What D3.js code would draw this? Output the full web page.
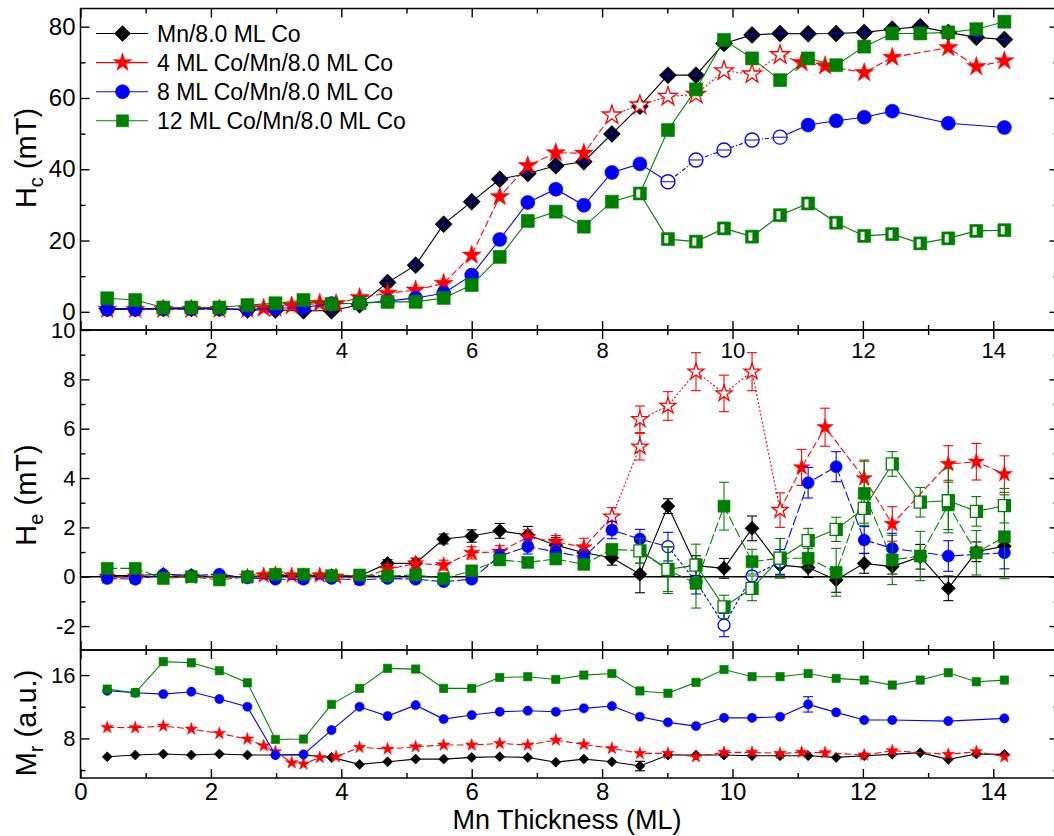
<!DOCTYPE html>
<html>
<head>
<meta charset="utf-8">
<script src="https://cdnjs.cloudflare.com/ajax/libs/d3/7.8.5/d3.min.js"></script>
<style>
  body { margin: 0; background: #fff; }
  svg { display: block; }
  text { font-family: "Liberation Sans", Arial, sans-serif; fill: #000; }
</style>
</head>
<body>
<div id="chart"></div>
<script>
// Mn thickness (ML) sampled by each sample series
const thickness = [0.41,0.84,1.27,1.70,2.13,2.56,2.99,3.42,3.85,4.28,4.71,5.14,5.57,6.00,6.43,6.86,7.29,7.72,8.15,8.58,9.01,9.44,9.87,10.30,10.73,11.16,11.59,12.02,12.45,12.88,13.31,13.74,14.17];
const thicknessRed = [0.41,0.84,1.27,1.70,2.13,2.56,2.81,2.99,3.24,3.42,3.67,3.92,4.28,4.71,5.14,5.57,6.00,6.43,6.86,7.29,7.72,8.15,8.58,9.01,9.44,9.87,10.30,10.73,11.06,11.42,12.02,12.45,13.31,13.74,14.17];
const thicknessRedHe = [0.41,0.84,1.27,1.70,2.13,2.56,2.81,2.99,3.24,3.42,3.67,3.92,4.28,4.71,5.14,5.57,6.00,6.43,6.86,7.29,7.72,8.15,8.58,8.58,9.01,9.44,9.87,10.30,10.73,11.06,11.42,12.02,12.45,13.31,13.74,14.17];
const thicknessBlue = [0.41,0.84,1.27,1.70,2.13,2.56,2.99,3.42,3.85,4.28,4.71,5.14,5.57,6.00,6.43,6.86,7.29,7.72,8.15,8.58,9.01,9.44,9.87,10.30,10.73,11.16,11.59,12.02,12.45,13.31,14.17];
const thicknessBranch = [8.58,9.01,9.44,9.87,10.30,10.73,11.16,11.59,12.02,12.45,12.88,13.31,13.74,14.17];

const legendLabels = ['Mn/8.0 ML Co', '4 ML Co/Mn/8.0 ML Co', '8 ML Co/Mn/8.0 ML Co', '12 ML Co/Mn/8.0 ML Co'];

// Hc (mT)
const hcBlack = [0.9,0.9,0.9,0.9,0.9,0.5,0.5,0.3,0.3,2.0,8.2,13.1,24.6,30.9,37.2,38.8,41.0,42.1,49.9,57.7,66.4,66.4,75.3,77.7,78.1,78.0,78.1,78.4,79.3,80.0,78.4,77.0,76.4];
const hcRed = [0.7,0.7,0.7,0.7,0.7,0.7,1.0,1.0,1.7,1.9,2.4,2.3,4.0,5.2,6.1,8.0,15.9,32.3,41.0,44.6,44.5,55.2,58.0,60.4,61.0,67.6,66.7,72.1,69.9,69.0,67.1,71.4,74.1,68.8,70.4];
const hcBlue = [0.7,0.7,0.9,0.9,0.9,0.7,1.0,1.2,2.3,2.4,3.0,3.9,5.2,10.3,20.3,30.7,34.4,29.9,39.1,41.5,36.5,42.6,45.4,48.2,49.0,52.4,53.6,54.6,56.3,52.9,51.7];
const hcGreen = [3.8,3.3,1.2,1.2,1.2,1.9,2.4,3.3,2.2,2.4,2.8,2.8,3.9,7.5,15.4,25.5,28.1,23.9,30.9,33.2,51.0,62.4,76.3,71.1,65.0,71.1,69.2,74.4,78.1,78.1,78.4,79.3,81.4];
const hcGreenLow = [33.2,20.4,19.7,23.4,21.1,27.1,30.4,25.0,21.3,21.8,19.2,20.6,22.7,22.9];

// He (mT) and error bars
const heBlack = [0.05,0.05,0.1,0.05,0.0,0.0,0.05,0.05,0.05,0.03,0.54,0.55,1.53,1.65,1.86,1.69,1.28,0.97,0.77,0.1,2.86,0.45,0.34,1.96,0.47,0.37,-0.13,0.54,0.41,0.81,-0.47,1.01,1.24];
const heBlackErr = [0.1,0.1,0.1,0.1,0.1,0.1,0.1,0.1,0.1,0.1,0.15,0.2,0.2,0.25,0.3,0.35,0.3,0.3,0.3,0.75,0.3,0.4,0.4,0.5,0.4,0.4,0.5,0.4,0.3,0.5,0.5,0.4,0.3];
const heRed = [0,0,0,0,0,0,0.05,0.1,0.05,0,0.05,0,-0.07,0.3,0.54,0.47,0.97,1.01,1.6,1.42,1.19,2.43,5.27,6.38,6.92,8.31,7.43,8.31,2.7,4.43,6.06,3.99,2.14,4.57,4.66,4.16];
const heRedErr = [0.1,0.1,0.1,0.1,0.1,0.1,0.1,0.1,0.1,0.1,0.1,0.1,0.15,0.2,0.2,0.2,0.25,0.25,0.3,0.25,0.37,0.37,0.54,0.54,0.58,0.77,0.74,0.77,0.7,0.73,0.77,0.74,0.7,0.74,0.74,0.74];
const heBlue = [-0.07,-0.1,0.08,0.05,0.1,-0.05,-0.1,-0.1,-0.07,-0.13,-0.07,-0.1,-0.2,-0.1,0.84,1.22,1.01,0.79,1.89,1.53,1.22,-0.2,-1.96,0.03,0.6,3.81,4.46,1.49,1.15,0.84,0.97];
const heBlueErr = [0.1,0.1,0.1,0.1,0.1,0.1,0.1,0.1,0.1,0.1,0.1,0.1,0.1,0.1,0.25,0.3,0.3,0.3,0.35,0.39,0.58,0.5,0.47,0.45,0.5,0.62,0.61,0.54,0.61,0.62,0.65];
const heGreen = [0.34,0.34,-0.07,0.0,-0.13,0.0,0.1,0.1,0.04,0.07,0.03,0.07,-0.07,0.24,0.68,0.58,0.72,0.5,1.11,1.05,0.27,-0.27,2.86,0.61,0.75,0.75,0.18,3.38,0.68,0.84,2.91,0.97,1.62];
const heGreenErr = [0.15,0.15,0.15,0.15,0.15,0.15,0.15,0.15,0.15,0.15,0.15,0.15,0.15,0.15,0.15,0.15,0.15,0.15,0.2,0.5,0.95,1.0,0.97,0.5,0.8,0.4,0.97,1.3,1.0,1.0,1.0,0.9,1.7];
const heGreenOpen = [1.05,0.3,0.47,-1.22,-0.47,0.75,1.46,1.92,2.77,4.57,3.02,3.08,2.65,2.88];
const heGreenOpenErr = [0.5,0.9,0.85,0.47,0.5,0.8,0.5,0.49,0.6,0.5,0.6,1.3,0.6,0.7];

// Mr (a.u.)
const mrBlack = [5.68,5.9,6.03,5.9,6.03,5.9,5.9,5.9,5.6,4.72,5.05,5.39,5.39,5.6,5.68,5.6,5.0,5.39,5.05,4.51,5.9,5.9,5.9,5.81,5.81,5.81,5.6,5.81,5.99,6.2,5.35,6.03,5.99];
const mrBlackErr = [0,0,0,0,0,0,0,0,0,0,0,0,0,0,0,0,0,0,0,0.6,0,0,0,0,0,0,0,0,0,0,0,0,0];
const mrRed = [9.39,9.35,9.56,9.18,8.63,7.92,7.07,6.32,4.93,4.76,5.6,5.68,6.87,6.66,6.95,7.16,7.16,7.37,7.16,7.79,7.24,6.74,6.11,6.11,5.68,6.24,6.24,6.11,6.24,6.2,5.9,6.44,5.99,6.32,5.68];
const mrBlue = [14.02,13.77,13.6,13.9,12.97,12.0,5.9,5.98,9.05,12.0,10.82,12.2,10.44,10.95,11.37,11.5,11.37,11.8,12.09,10.74,10.03,9.56,10.6,10.6,10.74,12.3,11.29,10.32,10.32,10.19,10.53];
const mrBlueErr = [0,0,0,0,0,0,0,0,0,0,0,0,0,0,0,0,0,0,0,0,0,0,0,0,0,0.97,0,0,0,0,0];
const mrGreen = [14.23,13.77,17.7,17.56,16.55,15.03,7.87,7.92,12.3,14.32,16.85,16.76,14.32,14.32,15.7,15.8,15.45,16.0,16.2,14.0,13.7,15.08,16.7,15.8,15.8,16.2,15.58,15.37,14.74,15.37,16.3,15.16,15.37];

const W = 1054, H = 836;
const COL = { black: '#000000', red: '#ff0000', blue: '#0000ff', green: '#008000' };

const svg = d3.select('#chart').append('svg').attr('width', W).attr('height', H);

const x = d3.scaleLinear().domain([0, 15]).range([80.5, 1058.5]);
const yHc = d3.scaleLinear().domain([-5.1, 85.1]).range([330, 8.5]);
const yHe = d3.scaleLinear().domain([-2.97, 10]).range([650, 330]);
const yMr = d3.scaleLinear().domain([3, 19.17]).range([778, 650]);

const xMajor = [0,2,4,6,8,10,12,14], xMinor = [1,3,5,7,9,11,13];

function styleAxis(sel, fs) {
  sel.select('.domain').remove();
  sel.selectAll('line').attr('stroke', '#000').attr('stroke-width', 1.4);
  sel.selectAll('text').attr('font-size', fs).attr('fill', '#000')
    .attr('font-family', '"Liberation Sans", Arial, sans-serif');
}

function drawFrame(y, o) {
  const [yb, yt] = y.range();
  const g = svg.append('g');
  const xl = x.range()[0], xr = x.range()[1];
  const fmt = d => String(d);
  // y axes
  g.append('g').attr('transform', `translate(${xl},0)`)
    .call(d3.axisLeft(y).tickValues(o.yMajor).tickSize(-9).tickPadding(5).tickFormat(fmt))
    .call(s => styleAxis(s, o.yfs));
  g.append('g').attr('transform', `translate(${xl},0)`)
    .call(d3.axisLeft(y).tickValues(o.yMinor).tickSize(-5).tickFormat(''))
    .call(s => styleAxis(s, o.yfs));
  g.append('g').attr('transform', `translate(${xr},0)`)
    .call(d3.axisRight(y).tickValues(o.yMajor).tickSize(-9).tickFormat(''))
    .call(s => styleAxis(s, o.yfs));
  g.append('g').attr('transform', `translate(${xr},0)`)
    .call(d3.axisRight(y).tickValues(o.yMinor).tickSize(-5).tickFormat(''))
    .call(s => styleAxis(s, o.yfs));
  // top x axis (ticks inward, optional labels inside)
  if (o.topLabels) {
    g.append('g').attr('transform', `translate(0,${yt})`)
      .call(d3.axisBottom(x).tickValues(xMajor.filter(v => v > 0)).tickSize(9).tickPadding(3).tickFormat(fmt))
      .call(s => styleAxis(s, 22));
  } else {
    g.append('g').attr('transform', `translate(0,${yt})`)
      .call(d3.axisBottom(x).tickValues(xMajor).tickSize(9).tickFormat(''))
      .call(s => styleAxis(s, 22));
  }
  g.append('g').attr('transform', `translate(0,${yt})`)
    .call(d3.axisBottom(x).tickValues(xMinor).tickSize(5).tickFormat(''))
    .call(s => styleAxis(s, 22));
  // bottom x axis
  g.append('g').attr('transform', `translate(0,${yb})`)
    .call(d3.axisTop(x).tickValues(xMajor).tickSize(9).tickFormat(''))
    .call(s => styleAxis(s, 24));
  g.append('g').attr('transform', `translate(0,${yb})`)
    .call(d3.axisTop(x).tickValues(xMinor).tickSize(5).tickFormat(''))
    .call(s => styleAxis(s, 24));
  if (o.bottomLabels) {
    g.append('g').attr('transform', `translate(0,${yb})`)
      .call(d3.axisBottom(x).tickValues(xMajor).tickSize(0).tickPadding(5).tickFormat(fmt))
      .call(s => styleAxis(s, 24));
  }
  g.append('rect').attr('x', xl).attr('y', yt).attr('width', xr - xl).attr('height', yb - yt)
    .attr('fill', 'none').attr('stroke', '#000').attr('stroke-width', 1.5);
  return g;
}

function marker(g, cx, cy, shape, kind, color, r) {
  let d, rot = 0;
  if (shape === 'diamond') { d = d3.symbol(d3.symbolSquare, 2 * r * r)(); rot = 45; }
  else if (shape === 'star') d = d3.symbol(d3.symbolStar, r * r / 0.8908)();
  else if (shape === 'circle') d = d3.symbol(d3.symbolCircle, Math.PI * r * r)();
  else d = d3.symbol(d3.symbolSquare, 4 * r * r)();
  const m = g.append('g').attr('transform', `translate(${cx},${cy})`);
  const isOpen = kind === 'open' || kind === 'openHalf';
  m.append('path').attr('d', d).attr('transform', rot ? `rotate(${rot})` : null)
    .attr('fill', isOpen ? '#fff' : color)
    .attr('stroke', color).attr('stroke-width', isOpen ? 1.3 : 0.6);
  if (kind === 'half') {
    m.append('rect').attr('x', -r * 0.55).attr('y', -r * 0.62).attr('width', r * 0.6).attr('height', r * 1.24).attr('fill', '#fff');
  }
  if (kind === 'openHalf') {
    m.append('rect').attr('x', r * 0.25).attr('y', -r).attr('width', r * 0.75).attr('height', 2 * r).attr('fill', color);
  }
  return m;
}

function drawSeries(g, y, s) {
  const pts = s.x.map((t, i) => ({ t, v: s.v[i], e: s.err ? s.err[i] : 0, i }));
  const line = d3.line().x(d => x(d.t)).y(d => y(d.v));
  const segs = [];
  if (s.open) {
    const [a, b] = s.open;
    segs.push({ p: pts.slice(0, a + 1), dash: s.dash });
    segs.push({ p: pts.slice(a, b + 1), dash: s.openDash });
    segs.push({ p: pts.slice(b), dash: s.dash });
  } else segs.push({ p: pts, dash: s.dash });
  segs.forEach(sg => {
    if (sg.p.length < 2) return;
    g.append('path').attr('d', line(sg.p)).attr('fill', 'none')
      .attr('stroke', s.color).attr('stroke-width', 1.1)
      .attr('stroke-dasharray', sg.dash || null);
  });
  pts.filter(d => d.e > 0).forEach(d => {
    const cx = x(d.t), y1 = y(d.v + d.e), y2 = y(d.v - d.e);
    g.append('line').attr('x1', cx).attr('x2', cx).attr('y1', y1).attr('y2', y2).attr('stroke', s.color).attr('stroke-width', 1.1);
    [y1, y2].forEach(yy => g.append('line').attr('x1', cx - 5).attr('x2', cx + 5).attr('y1', yy).attr('y2', yy).attr('stroke', s.color).attr('stroke-width', 1.1));
  });
  pts.forEach(d => {
    let kind = 'filled';
    if (s.open && d.i >= s.open[0] && d.i <= s.open[1]) kind = 'open';
    if (s.kind) kind = s.kind(d.i, kind);
    if (!kind) return;
    const m = marker(g, x(d.t), y(d.v), s.shape, kind, s.color, s.r);
    if (s.cross) {
      m.append('path').attr('d', `M${-s.r * 0.75},0H${s.r * 0.75}M0,${-s.r * 0.75}V${s.r * 0.75}`)
        .attr('stroke', '#0000ff').attr('stroke-width', 1);
    }
    if (kind === 'open' && s.shape === 'circle' && s.bar) {
      m.append('path').attr('d', `M${-s.r},0H${s.r}`).attr('stroke', s.color).attr('stroke-width', 1);
    }
  });
}

// ---- Hc panel ----
const gHc = drawFrame(yHc, { yMajor: [0,20,40,60,80], yMinor: [10,30,50,70], yfs: 24, topLabels: false, bottomLabels: false });
const pHc = svg.append('g');
drawSeries(pHc, yHc, { x: thickness, v: hcBlack, color: COL.black, shape: 'diamond', r: 8.5, cross: true });
drawSeries(pHc, yHc, { x: thicknessRed, v: hcRed, color: COL.red, shape: 'star', r: 10, dash: '7,3', open: [21, 27], openDash: '2,2' });
drawSeries(pHc, yHc, { x: thicknessBlue, v: hcBlue, color: COL.blue, shape: 'circle', r: 7, dash: null, open: [20, 24], openDash: '4,2,1,2', bar: true });
drawSeries(pHc, yHc, { x: thickness, v: hcGreen, color: COL.green, shape: 'square', r: 6.5, kind: i => i === 19 ? null : 'filled' });
drawSeries(pHc, yHc, { x: thicknessBranch, v: hcGreenLow, color: COL.green, shape: 'square', r: 6.5, kind: () => 'half' });

// ---- He panel ----
const gHe = drawFrame(yHe, { yMajor: [-2,0,2,4,6,8,10], yMinor: [-1,1,3,5,7,9], yfs: 22, topLabels: true, bottomLabels: false });
svg.append('line').attr('x1', x.range()[0]).attr('x2', x.range()[1]).attr('y1', yHe(0)).attr('y2', yHe(0))
  .attr('stroke', '#000').attr('stroke-width', 1.5);
const pHe = svg.append('g');
drawSeries(pHe, yHe, { x: thickness, v: heBlack, err: heBlackErr, color: COL.black, shape: 'diamond', r: 7 });
drawSeries(pHe, yHe, { x: thicknessRedHe, v: heRed, err: heRedErr, color: COL.red, shape: 'star', r: 8.5, dash: '7,3', open: [21, 28], openDash: '2,2' });
drawSeries(pHe, yHe, { x: thicknessBlue, v: heBlue, err: heBlueErr, color: COL.blue, shape: 'circle', r: 6, dash: '10,3', open: [20, 24], openDash: '3,2' });
drawSeries(pHe, yHe, { x: thickness, v: heGreen, err: heGreenErr, color: COL.green, shape: 'square', r: 6, dash: '10,3', kind: i => i === 19 ? null : 'filled' });
drawSeries(pHe, yHe, { x: thicknessBranch, v: heGreenOpen, err: heGreenOpenErr, color: COL.green, shape: 'square', r: 6, kind: () => 'openHalf' });

// ---- Mr panel ----
const gMr = drawFrame(yMr, { yMajor: [8,16], yMinor: [4,12], yfs: 22, topLabels: false, bottomLabels: true });
const pMr = svg.append('g');
drawSeries(pMr, yMr, { x: thickness, v: mrBlack, err: mrBlackErr, color: COL.black, shape: 'diamond', r: 5 });
drawSeries(pMr, yMr, { x: thicknessRed, v: mrRed, color: COL.red, shape: 'star', r: 6.5, dash: '7,3' });
drawSeries(pMr, yMr, { x: thicknessBlue, v: mrBlue, err: mrBlueErr, color: COL.blue, shape: 'circle', r: 4.6 });
drawSeries(pMr, yMr, { x: thickness, v: mrGreen, color: COL.green, shape: 'square', r: 4.2 });

// ---- legend ----
const legend = svg.append('g');
const legShapes = [['diamond', COL.black, 8], ['star', COL.red, 9.5], ['circle', COL.blue, 7], ['square', COL.green, 6]];
legendLabels.forEach((lab, i) => {
  const ly = 33.5 + i * 29.1;
  legend.append('line').attr('x1', 96).attr('x2', 148).attr('y1', ly).attr('y2', ly)
    .attr('stroke', legShapes[i][1]).attr('stroke-width', 1.1);
  marker(legend, 122.5, ly, legShapes[i][0], 'filled', legShapes[i][1], legShapes[i][2]);
  legend.append('text').attr('x', 157).attr('y', ly + 8).attr('font-size', 23).text(lab);
});

// ---- axis titles ----
function yTitle(cy, main, sub, rest) {
  const t = svg.append('text').attr('transform', `translate(36,${cy}) rotate(-90)`)
    .attr('text-anchor', 'middle').attr('font-size', 29);
  t.append('tspan').text(main);
  t.append('tspan').attr('font-size', 20).attr('dy', 7).text(sub);
  t.append('tspan').attr('dy', -7).text(rest);
}
yTitle(158, 'H', 'c', ' (mT)');
yTitle(495, 'H', 'e', ' (mT)');
yTitle(723, 'M', 'r', ' (a.u.)');
svg.append('text').attr('x', 567).attr('y', 829).attr('text-anchor', 'middle').attr('font-size', 27).text('Mn Thickness (ML)');
</script>
</body>
</html>
